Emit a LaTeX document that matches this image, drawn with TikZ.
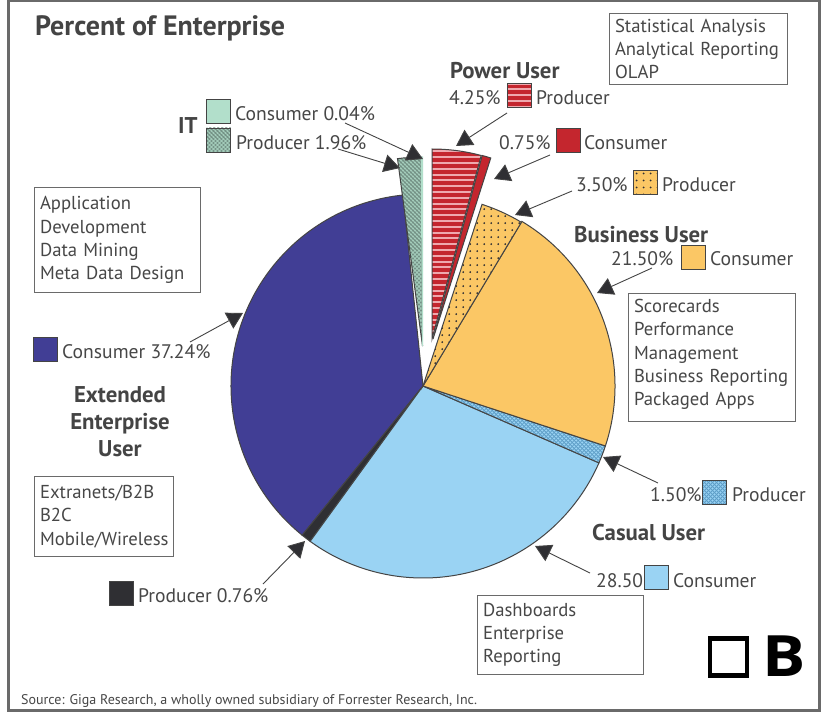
\documentclass[tikz,border=0pt]{standalone}
\usepackage{fontspec}
\usepackage{graphicx}
\setmainfont{PT Sans}
\newfontfamily\bfont{Open Sans}
\usetikzlibrary{arrows.meta}
\hyphenpenalty=10000
\definecolor{cPurple}{HTML}{413E95}
\definecolor{cSky}{HTML}{9AD3F3}
\definecolor{cSkyD}{HTML}{5F9FC8}
\definecolor{cYellow}{HTML}{FBC765}
\definecolor{cRed}{HTML}{C4262E}
\definecolor{cPink}{HTML}{EFA9AE}
\definecolor{cDark}{HTML}{2F2F33}
\definecolor{cMint}{HTML}{B2DFCB}
\definecolor{cSage}{HTML}{93B8A9}
\definecolor{cInk}{HTML}{444444}
\definecolor{cText}{HTML}{474747}
\definecolor{cBox}{HTML}{6A6A6A}
\tikzset{
  x=1pt,y=-1pt,
  lab/.style={anchor=base west,inner sep=0pt,yshift=-1.5pt,text=cText,font=\fontsize{19.6}{22}\selectfont},
  head/.style={anchor=base west,inner sep=0pt,yshift=-1.5pt,text=cInk,font=\fontsize{22.8}{27}\selectfont\bfseries},
  infobox/.style={draw=cBox,line width=1.1pt,anchor=north west,inner xsep=5.5pt,inner ysep=0pt,align=left,text=cText,
    font=\fontsize{18.7}{23.3}\selectfont},
  swatch/.style={draw=cInk,line width=0.8pt,minimum width=24pt,minimum height=24pt,inner sep=0pt},
  slice/.style={draw=cInk,line width=1pt},
  stripefill/.style={fill=cRed,path picture={\begin{scope}[shift={(path picture bounding box.center)}]\foreach \yy in {-110,-104.2,...,110} \draw[cPink,line width=2pt] (-200,\yy)--(200,\yy);\end{scope}}},
  dotfill/.style={fill=cYellow,path picture={\begin{scope}[shift={(path picture bounding box.center)}]\foreach \xx in {-100,-93,...,100} \foreach \yy in {-100,-93,...,100} \fill[cDark] (\xx,\yy) circle[radius=1pt];\end{scope}}},
  skyhatch/.style={fill=cSky,path picture={\begin{scope}[shift={(path picture bounding box.center)}]\foreach \kk in {-160,-156,...,160} {\draw[cSkyD,line width=0.8pt] (\kk-60,-60)--(\kk+60,60);\draw[cSkyD,line width=0.8pt] (\kk-60,60)--(\kk+60,-60);}\end{scope}}},
  sagehatch/.style={fill=cSage,path picture={\begin{scope}[shift={(path picture bounding box.center)}]\foreach \kk in {-200,-196,...,200} {\draw[cSage!60!black,line width=0.5pt] (\kk-100,-100)--(\kk+100,100);\draw[cMint,line width=0.5pt] (\kk-100,100)--(\kk+100,-100);}\end{scope}}},
  conn/.style={draw=cInk,line width=0.9pt,-{Triangle[length=16pt,width=18pt,fill=cDark]}},
}
\newcommand{\wedgeat}[5]{(#1,#2) -- ++(#3:#5 pt) arc[start angle=#3,end angle=#4,radius=#5 pt] -- cycle}
\begin{document}
\begin{tikzpicture}
\useasboundingbox (0,0) rectangle (827,714);
\path[fill=white] (0,0) rectangle (827,714);
\path[draw=cBox,line width=2.2pt] (8.5,1) rectangle (819.5,710.5);

% main pie
\path[slice,fill=cPurple] \wedgeat{423}{386}{96}{231}{192};
\path[slice,fill=cDark] \wedgeat{423}{386}{231}{234}{192};
\path[slice,fill=cSky] \wedgeat{423}{386}{234}{336.4}{192};
\path[slice,skyhatch] \wedgeat{423}{386}{336.4}{341.8}{192};
\path[slice,fill=cYellow] \wedgeat{423}{386}{341.8}{419}{192};
\path[slice,dotfill] \wedgeat{423}{386}{59}{72}{191};
% exploded power user
\path[slice,stripefill] \wedgeat{432}{339}{75}{90}{190};
\path[slice,fill=cRed] \wedgeat{433}{339}{72.3}{75}{190};
% exploded IT
\path[slice,sagehatch] \wedgeat{422.5}{346}{90.4}{97.6}{189};
\path[slice,fill=cMint,draw=cMint] \wedgeat{422.5}{346}{90}{90.4}{189};

% title
\node[anchor=base west,inner sep=0pt,text=cInk,font=\fontsize{28}{30}\selectfont\bfseries] (title) at (35,36) {Percent of Enterprise};

% info boxes
\node[infobox,minimum width=178pt,minimum height=71pt,text width=167pt] (boxOlap) at (609,13) {Statistical Analysis\\Analytical Reporting\\OLAP};
\node[infobox,minimum width=166pt,minimum height=105pt,text width=155pt] (boxApp) at (34,187) {Application\\Development\\Data Mining\\Meta Data Design};
\node[infobox,minimum width=167pt,minimum height=128pt,text width=156pt] (boxScore) at (628,293) {Scorecards\\Performance\\Management\\Business Reporting\\Packaged Apps\rule[-10pt]{0pt}{10pt}};
\node[infobox,minimum width=139pt,minimum height=80pt,text width=128pt] (boxExt) at (34,476) {Extranets/B2B\\B2C\\Mobile/Wireless};
\node[infobox,minimum width=166pt,minimum height=79pt,text width=155pt] (boxDash) at (477,595) {Dashboards\\Enterprise\\Reporting};

% headings
\node[head] (hPower) at (450,77) {Power User};
\node[head] (hBiz) at (574,241) {Business User};
\node[head] (hCasual) at (592,539) {Casual User};
\node[head] (hIT) at (178,132) {IT};
\node[head,anchor=center,align=center] (hExt) at (120,420.5) {Extended\\Enterprise\\User};

% legend: power user
\node[swatch,stripefill] (sPP) at (519.5,95) {};
\node[lab] (tPPa) at (449,103) {4.25\%};
\node[lab] (tPPb) at (536,103) {Producer};
\node[swatch,fill=cRed] (sPC) at (568,140) {};
\node[lab] (tPCa) at (499,148) {0.75\%};
\node[lab] (tPCb) at (584,148) {Consumer};
% business user
\node[swatch,dotfill] (sBP) at (645.5,182.5) {};
\node[lab] (tBPa) at (576,190) {3.50\%};
\node[lab] (tBPb) at (662,190) {Producer};
\node[swatch,fill=cYellow] (sBC) at (693,257) {};
\node[lab] (tBCa) at (611,264) {21.50\%};
\node[lab] (tBCb) at (710,264) {Consumer};
% casual user
\node[swatch,skyhatch] (sCP) at (714.5,492.5) {};
\node[lab] (tCPa) at (650,500) {1.50\%};
\node[lab] (tCPb) at (732,500) {Producer};
\node[swatch,fill=cSky] (sCC) at (656.5,577.5) {};
\node[lab] (tCCa) at (596,586) {28.50};
\node[lab] (tCCb) at (673,586) {Consumer};
% extended
\node[swatch,fill=cDark] (sEP) at (121.5,593) {};
\node[lab] (tEP) at (138,601) {Producer 0.76\%};
\node[swatch,fill=cPurple] (sEC) at (45,349) {};
\node[lab] (tEC) at (62,357) {Consumer 37.24\%};
% IT
\node[swatch,fill=cMint] (sIC) at (218.5,111) {};
\node[lab] (tIC) at (235,119) {Consumer 0.04\%};
\node[swatch,sagehatch] (sIP) at (218.5,140) {};
\node[lab] (tIP) at (236,148) {Producer 1.96\%};

% connectors
\coordinate (aPPs) at (507,113); \coordinate (aPPt) at (456,146);
\coordinate (aPCs) at (550,155); \coordinate (aPCt) at (494,179);
\coordinate (aBPs) at (572,191); \coordinate (aBPt) at (515,215);
\coordinate (aBCs) at (652,268); \coordinate (aBCt) at (597,293);
\coordinate (aCPs) at (658,483); \coordinate (aCPt) at (603,457);
\coordinate (aCCs) at (590,573); \coordinate (aCCt) at (535,546);
\coordinate (aEPs) at (263,584); \coordinate (aEPt) at (305,541);
\coordinate (aECs) at (190,342); \coordinate (aECt) at (243,313);
\coordinate (aIPs) at (338,149); \coordinate (aIPt) at (400,168);
\coordinate (aICs) at (345,123); \coordinate (aICt) at (423,159);
\foreach \s/\t in {aPPs/aPPt,aPCs/aPCt,aBPs/aBPt,aBCs/aBCt,aCPs/aCPt,aCCs/aCCt,aEPs/aEPt,aECs/aECt,aIPs/aIPt,aICs/aICt}
  \draw[conn] (\s) -- (\t);

% source
\node[anchor=base west,inner sep=0pt,text=cText,font=\fontsize{14}{16}\selectfont] (src) at (21,704) {Source: Giga Research, a wholly owned subsidiary of Forrester Research, Inc.};

% corner mark
\node[draw=black,line width=4.5pt,minimum width=37pt,minimum height=37pt,inner sep=0pt] (mark) at (728.5,657) {};
\node[anchor=base west,inner sep=0pt,text=black,font=\bfont\fontsize{57}{60}\selectfont\bfseries] (markB) at (762.5,676) {\scalebox{1.13}[1]{B}};
\end{tikzpicture}
\end{document}
